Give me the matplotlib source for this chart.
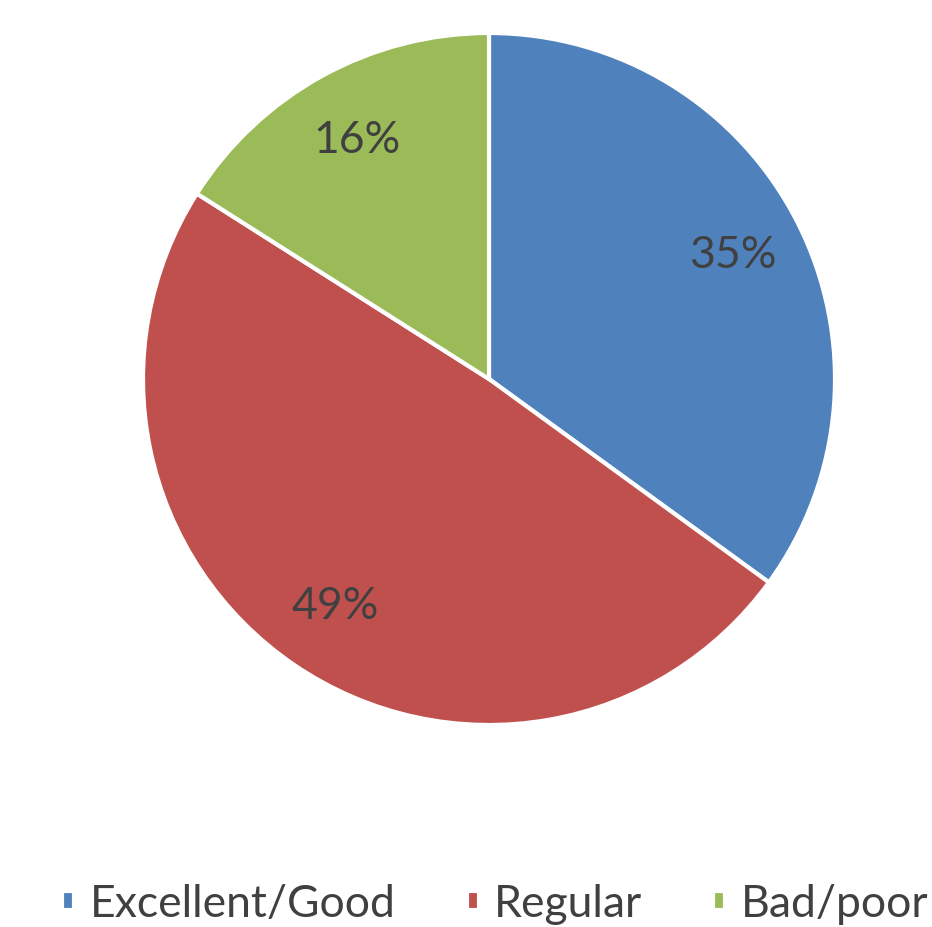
import matplotlib.pyplot as plt

categories = ['Excellent/Good', 'Regular', 'Bad/poor']
shares = [35, 49, 16]
colors = ['#4F81BD', '#C0504D', '#9BBB59']

plt.rcParams['font.family'] = ['Lato', 'DejaVu Sans']

fig = plt.figure(figsize=(9.32, 9.28), dpi=100)
ax = fig.add_axes([143 / 932, 202 / 928, 692 / 932, 692 / 928])

wedges, texts, autotexts = ax.pie(
    shares, colors=colors, startangle=90, counterclock=False,
    autopct='%1.0f%%', pctdistance=0.79,
    wedgeprops=dict(edgecolor='white', linewidth=3),
    textprops=dict(color='#404040', fontsize=32))
ax.set_xlim(-1, 1)
ax.set_ylim(-1, 1)
ax.set_aspect('equal')

fig.legend(wedges, categories, loc='center left', ncol=3,
           bbox_to_anchor=(62 / 932, 23 / 928), frameon=False,
           fontsize=32, labelcolor='#404040', handlelength=0.27,
           handleheight=0.27, handletextpad=0.35, columnspacing=1.6,
           borderpad=0, borderaxespad=0)

fig.savefig('out.png', dpi=100)
